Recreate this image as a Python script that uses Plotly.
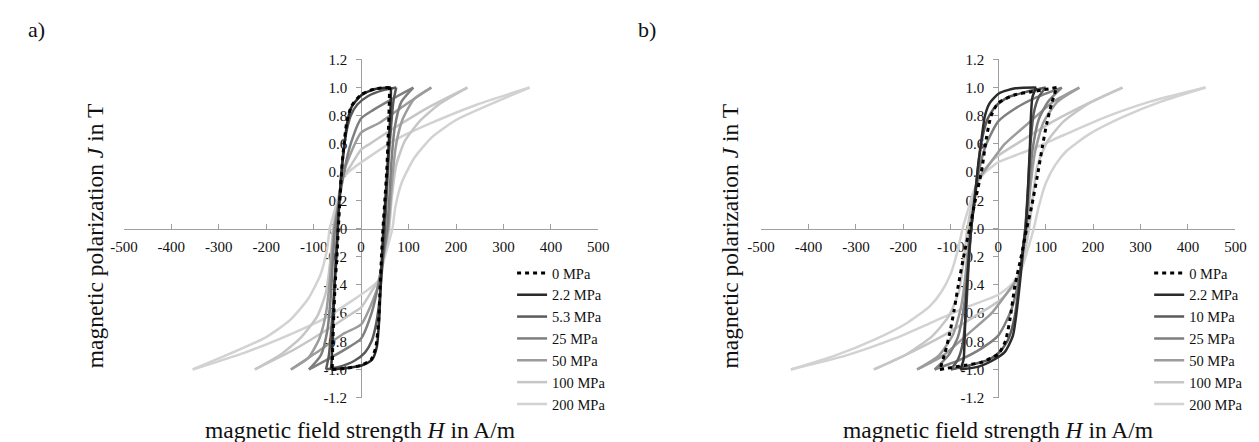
import plotly.graph_objects as go

# ---------------- DATA ----------------
x_tick_vals = [-500, -400, -300, -200, -100, 0, 100, 200, 300, 400, 500]
x_tick_text = ["-500", "-400", "-300", "-200", "-100", "0", "100", "200", "300", "400", "500"]
y_tick_vals = [-1.2, -1.0, -0.8, -0.6, -0.4, -0.2, 0.0, 0.2, 0.4, 0.6, 0.8, 1.0, 1.2]
y_tick_text = ["-1.2", "-1.0", "-0.8", "-0.6", "-0.4", "-0.2", "0.0", "0.2", "0.4", "0.6", "0.8", "1.0", "1.2"]

labels_a = ["0 MPa", "2.2 MPa", "5.3 MPa", "25 MPa", "50 MPa", "100 MPa", "200 MPa"]
labels_b = ["0 MPa", "2.2 MPa", "10 MPa", "25 MPa", "50 MPa", "100 MPa", "200 MPa"]

# ---- panel a) : H in A/m, J in T ; descending and ascending branches ----
a0_desc_H = [60, 28, 0, -20, -30, -37, -41, -45, -48, -51, -55, -58, -60, -61]
a0_desc_J = [1.0, 0.99, 0.95, 0.87, 0.76, 0.57, 0.41, 0.19, 0.0, -0.2, -0.41, -0.65, -0.85, -1.0]
a0_asc_H = [-61, -28, 0, 21, 31, 37, 40, 43, 46, 50, 54, 57, 59, 60]
a0_asc_J = [-1.0, -0.99, -0.97, -0.93, -0.84, -0.65, -0.42, -0.19, 0.0, 0.2, 0.41, 0.65, 0.85, 1.0]

a2_desc_H = [63, 30, 2, -19, -29, -36, -41, -46, -49, -52, -56, -59, -61, -63]
a2_desc_J = [1.0, 0.99, 0.95, 0.87, 0.76, 0.57, 0.41, 0.19, 0.0, -0.2, -0.41, -0.65, -0.85, -1.0]
a2_asc_H = [-63, -30, 2, 23, 33, 38, 41, 44, 47, 51, 55, 59, 62, 63]
a2_asc_J = [-1.0, -0.99, -0.97, -0.93, -0.84, -0.65, -0.42, -0.19, 0.0, 0.2, 0.41, 0.65, 0.85, 1.0]

a5_desc_H = [74, 45, 15, -8, -22, -32, -39, -45, -50, -54, -58, -63, -68, -74]
a5_desc_J = [1.0, 0.98, 0.94, 0.88, 0.8, 0.67, 0.5, 0.25, 0.0, -0.25, -0.5, -0.72, -0.9, -1.0]
a5_asc_H = [-74, -45, -15, 8, 22, 32, 39, 45, 50, 54, 58, 63, 68, 74]
a5_asc_J = [-1.0, -0.98, -0.94, -0.88, -0.8, -0.67, -0.5, -0.25, 0.0, 0.25, 0.5, 0.72, 0.9, 1.0]

a25_desc_H = [110, 66, 25, 0, -22, -35, -46, -55, -60, -64, -71, -85, -110]
a25_desc_J = [1.0, 0.92, 0.84, 0.78, 0.6, 0.42, 0.2, 0.0, -0.25, -0.48, -0.72, -0.9, -1.0]
a25_asc_H = [-110, -66, -25, 0, 22, 35, 46, 55, 60, 64, 71, 85, 110]
a25_asc_J = [-1.0, -0.92, -0.84, -0.78, -0.6, -0.42, -0.2, 0.0, 0.25, 0.48, 0.72, 0.9, 1.0]

a50_desc_H = [148, 94, 39, 0, -26, -38, -48, -57, -62, -66, -74, -88, -112, -148]
a50_desc_J = [1.0, 0.88, 0.75, 0.68, 0.5, 0.38, 0.18, 0.0, -0.2, -0.37, -0.6, -0.78, -0.92, -1.0]
a50_asc_H = [-148, -94, -39, 0, 26, 38, 48, 57, 62, 66, 74, 88, 112, 148]
a50_asc_J = [-1.0, -0.88, -0.75, -0.68, -0.5, -0.38, -0.18, 0.0, 0.2, 0.37, 0.6, 0.78, 0.92, 1.0]

a100_desc_H = [224, 142, 73, 18, 0, -23, -38, -50, -59, -64, -74, -92, -126, -168, -224]
a100_desc_J = [1.0, 0.86, 0.72, 0.6, 0.56, 0.44, 0.36, 0.17, 0.0, -0.2, -0.45, -0.62, -0.77, -0.89, -1.0]
a100_asc_H = [-224, -142, -73, -18, 0, 23, 38, 50, 59, 64, 74, 92, 126, 168, 224]
a100_asc_J = [-1.0, -0.86, -0.72, -0.6, -0.56, -0.44, -0.36, -0.17, 0.0, 0.2, 0.45, 0.62, 0.77, 0.89, 1.0]

a200_desc_H = [355, 245, 142, 73, 18, -16, -36, -50, -66, -72, -86, -112, -150, -200, -278, -355]
a200_desc_J = [1.0, 0.88, 0.74, 0.63, 0.51, 0.43, 0.37, 0.2, 0.0, -0.15, -0.33, -0.5, -0.65, -0.77, -0.89, -1.0]
a200_asc_H = [-355, -245, -142, -73, -18, 16, 36, 50, 66, 72, 86, 112, 150, 200, 278, 355]
a200_asc_J = [-1.0, -0.88, -0.74, -0.63, -0.51, -0.43, -0.37, -0.2, 0.0, 0.15, 0.33, 0.5, 0.65, 0.77, 0.89, 1.0]

# ---- panel b) ----
b0_desc_H = [123, 70, 36, 0, -15, -25, -35, -49, -60, -70, -85, -93, -102, -112, -123]
b0_desc_J = [1.0, 0.97, 0.95, 0.89, 0.8, 0.64, 0.41, 0.19, 0.0, -0.15, -0.42, -0.58, -0.74, -0.88, -1.0]
b0_asc_H = [-123, -70, -36, 0, 15, 25, 35, 49, 60, 70, 85, 93, 102, 112, 123]
b0_asc_J = [-1.0, -0.97, -0.95, -0.89, -0.8, -0.64, -0.41, -0.19, 0.0, 0.15, 0.42, 0.58, 0.74, 0.88, 1.0]

b2_desc_H = [80, 36, 2, -18, -28, -35, -42, -49, -57, -64, -69, -71, -73, -80]
b2_desc_J = [1.0, 0.995, 0.96, 0.89, 0.8, 0.64, 0.46, 0.23, 0.0, -0.3, -0.6, -0.8, -0.93, -1.0]
b2_asc_H = [-80, -41, -14, 14, 31, 41, 48, 54, 58, 63, 67, 69, 72, 80]
b2_asc_J = [-1.0, -0.98, -0.94, -0.875, -0.76, -0.53, -0.31, -0.1, 0.0, 0.3, 0.6, 0.8, 0.93, 1.0]

b10_desc_H = [100, 60, 20, -5, -22, -35, -43, -50, -57, -63, -68, -75, -85, -100]
b10_desc_J = [1.0, 0.97, 0.93, 0.87, 0.78, 0.62, 0.42, 0.2, 0.0, -0.3, -0.6, -0.82, -0.93, -1.0]
b10_asc_H = [-100, -60, -20, 5, 22, 35, 43, 50, 57, 63, 68, 75, 85, 100]
b10_asc_J = [-1.0, -0.97, -0.93, -0.87, -0.78, -0.62, -0.42, -0.2, 0.0, 0.3, 0.6, 0.82, 0.93, 1.0]

b25_desc_H = [134, 80, 35, 0, -25, -38, -48, -57, -65, -72, -85, -105, -134]
b25_desc_J = [1.0, 0.93, 0.85, 0.76, 0.6, 0.45, 0.25, 0.0, -0.3, -0.55, -0.77, -0.9, -1.0]
b25_asc_H = [-134, -80, -35, 0, 25, 38, 48, 57, 65, 72, 85, 105, 134]
b25_asc_J = [-1.0, -0.93, -0.85, -0.76, -0.6, -0.45, -0.25, 0.0, 0.3, 0.55, 0.77, 0.9, 1.0]

b50_desc_H = [171, 116, 61, 14, -20, -45, -53, -60, -68, -78, -95, -125, -171]
b50_desc_J = [1.0, 0.9, 0.74, 0.6, 0.45, 0.33, 0.15, 0.0, -0.3, -0.55, -0.75, -0.9, -1.0]
b50_asc_H = [-171, -116, -61, -14, 20, 45, 53, 60, 68, 78, 95, 125, 171]
b50_asc_J = [-1.0, -0.9, -0.74, -0.6, -0.45, -0.33, -0.15, 0.0, 0.3, 0.55, 0.75, 0.9, 1.0]

b100_desc_H = [262, 197, 116, 48, -7, -41, -55, -65, -73, -83, -104, -138, -192, -262]
b100_desc_J = [1.0, 0.9, 0.76, 0.62, 0.5, 0.36, 0.18, 0.0, -0.23, -0.45, -0.62, -0.76, -0.89, -1.0]
b100_asc_H = [-262, -197, -116, -48, 7, 41, 55, 65, 73, 83, 104, 138, 192, 262]
b100_asc_J = [-1.0, -0.9, -0.76, -0.62, -0.5, -0.36, -0.18, 0.0, 0.23, 0.45, 0.62, 0.76, 0.89, 1.0]

b200_desc_H = [437, 320, 218, 136, 68, 0, -30, -50, -63, -75, -85, -100, -120, -144, -192, -262, -343, -437]
b200_desc_J = [1.0, 0.9, 0.78, 0.66, 0.56, 0.47, 0.39, 0.28, 0.14, 0.0, -0.15, -0.32, -0.45, -0.55, -0.67, -0.79, -0.9, -1.0]
b200_asc_H = [-437, -320, -218, -136, -68, 0, 30, 50, 63, 75, 85, 100, 120, 144, 192, 262, 343, 437]
b200_asc_J = [-1.0, -0.9, -0.78, -0.66, -0.56, -0.47, -0.39, -0.28, -0.14, 0.0, 0.15, 0.32, 0.45, 0.55, 0.67, 0.79, 0.9, 1.0]

# ---------------- STYLE ----------------
colors = ["#000000", "#2b2b2b", "#5a5a5a", "#7f7f7f", "#9c9c9c", "#c6c6c6", "#d2d2d2"]
FONT = "Liberation Serif"
AX_COL = "#9f9f9f"
TXT = "#111111"

loops_a = [
    (a0_desc_H, a0_desc_J, a0_asc_H, a0_asc_J),
    (a2_desc_H, a2_desc_J, a2_asc_H, a2_asc_J),
    (a5_desc_H, a5_desc_J, a5_asc_H, a5_asc_J),
    (a25_desc_H, a25_desc_J, a25_asc_H, a25_asc_J),
    (a50_desc_H, a50_desc_J, a50_asc_H, a50_asc_J),
    (a100_desc_H, a100_desc_J, a100_asc_H, a100_asc_J),
    (a200_desc_H, a200_desc_J, a200_asc_H, a200_asc_J),
]
loops_b = [
    (b0_desc_H, b0_desc_J, b0_asc_H, b0_asc_J),
    (b2_desc_H, b2_desc_J, b2_asc_H, b2_asc_J),
    (b10_desc_H, b10_desc_J, b10_asc_H, b10_asc_J),
    (b25_desc_H, b25_desc_J, b25_asc_H, b25_asc_J),
    (b50_desc_H, b50_desc_J, b50_asc_H, b50_asc_J),
    (b100_desc_H, b100_desc_J, b100_asc_H, b100_asc_J),
    (b200_desc_H, b200_desc_J, b200_asc_H, b200_asc_J),
]

W, H = 1259, 442
fig = go.Figure()

def add_panel(loops, labels, xa, ya, legend):
    # draw lightest first so dark loops lie on top
    for i in reversed(range(len(loops))):
        dH, dJ, aH, aJ = loops[i]
        is_dot = i == 0
        fig.add_trace(go.Scatter(
            x=list(dH) + [None] + list(aH),
            y=list(dJ) + [None] + list(aJ),
            mode="lines",
            name=labels[i],
            xaxis=xa, yaxis=ya,
            legend=legend,
            legendrank=i + 1,
            line=dict(color=colors[i], width=3 if is_dot else 2.5,
                      dash="4px,4px" if is_dot else "solid",
                      shape="spline", smoothing=0.6),
            hoverinfo="skip",
        ))

add_panel(loops_a, labels_a, "x", "y", "legend")
add_panel(loops_b, labels_b, "x2", "y2", "legend2")

px = lambda p: p / W
py = lambda p: 1 - p / H

ydom = [py(396), py(45)]
xdom_a = [px(104), px(588)]
xdom_b = [px(754), px(1238)]

def xaxis(dom):
    return dict(domain=dom, range=[-500, 500], anchor="free", position=(ydom[0] + ydom[1]) / 2,
                tickvals=x_tick_vals, ticktext=x_tick_text, showline=True, linecolor=AX_COL,
                linewidth=1, ticks="inside", ticklen=5, tickcolor=AX_COL, showgrid=False,
                zeroline=False, layer="below traces", ticklabelstandoff=4,
                tickfont=dict(family=FONT, size=15, color=TXT), fixedrange=True)

def yaxis(dom):
    return dict(domain=ydom, range=[-1.2, 1.2], anchor="free", position=(dom[0] + dom[1]) / 2,
                tickvals=y_tick_vals, ticktext=y_tick_text, showline=True, linecolor=AX_COL,
                linewidth=1, ticks="outside", ticklen=5, tickcolor=AX_COL, showgrid=False,
                zeroline=False, layer="below traces", ticklabelstandoff=6,
                tickfont=dict(family=FONT, size=15, color=TXT), fixedrange=True)

leg_common = dict(font=dict(family=FONT, size=14.5, color=TXT), bgcolor="rgba(0,0,0,0)",
                  xanchor="left", yanchor="top", itemwidth=30, traceorder="normal")

fig.update_layout(
    width=W, height=H, autosize=False,
    margin=dict(l=0, r=0, t=0, b=0),
    paper_bgcolor="white", plot_bgcolor="white",
    font=dict(family=FONT, color=TXT),
    xaxis=xaxis(xdom_a), yaxis=yaxis(xdom_a),
    xaxis2=xaxis(xdom_b), yaxis2=yaxis(xdom_b),
    legend=dict(x=px(500), y=py(250), **leg_common),
    legend2=dict(x=px(1150), y=py(250), **leg_common),
    showlegend=True,
)

ann = []
for lab, cx_title, cx_y, cx_letter in [("a)", 345, 74, 15), ("b)", 996, 722, 638)]:
    ann.append(dict(text="magnetic field strength <i>H</i> in A/m", x=px(cx_title), y=py(430),
                    xref="paper", yref="paper", showarrow=False, xanchor="center", yanchor="middle",
                    font=dict(family=FONT, size=23.5, color=TXT)))
    ann.append(dict(text="magnetic polarization <i>J</i> in T", x=px(cx_y), y=py(228),
                    xref="paper", yref="paper", showarrow=False, textangle=-90,
                    xanchor="center", yanchor="middle",
                    font=dict(family=FONT, size=23.5, color=TXT)))
    ann.append(dict(text=lab, x=px(cx_letter), y=py(14), xref="paper", yref="paper",
                    showarrow=False, xanchor="center", yanchor="middle",
                    font=dict(family=FONT, size=22, color=TXT)))
fig.update_layout(annotations=ann)

fig.write_html("out.html")
